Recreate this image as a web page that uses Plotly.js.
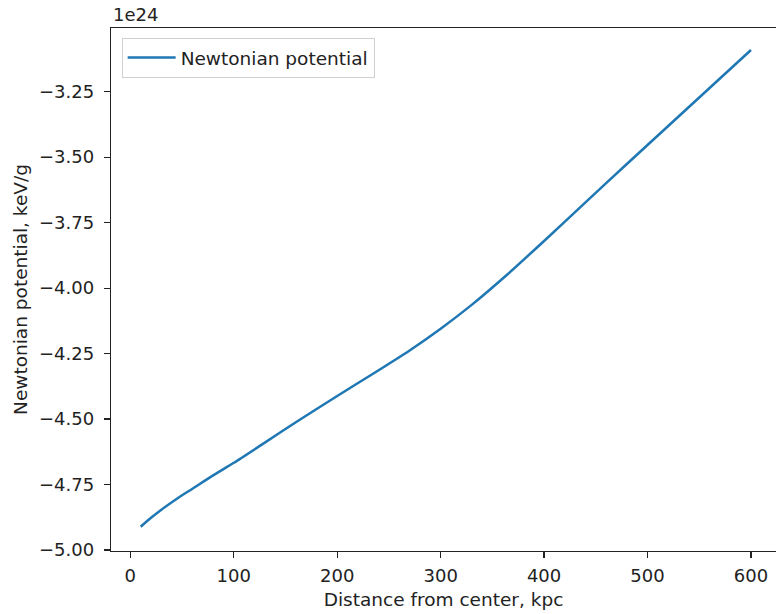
<!DOCTYPE html>
<html>
<head>
<meta charset="utf-8">
<script src="https://cdn.plot.ly/plotly-3.0.1.min.js"></script>
<style>html,body{margin:0;padding:0;background:#fff}#chart{width:776px;height:614px}</style>
</head>
<body>
<div id="chart"></div>
<script>
// Distance from center (kpc)
const distance = [10, 20, 30, 45, 60, 80, 100, 130, 160, 200, 235, 270, 300, 330, 365, 400, 440, 480, 520, 560, 600];
// Newtonian potential in units of 1e24 keV/g
const potential = [-4.911, -4.877, -4.846, -4.804, -4.766, -4.715, -4.667, -4.590, -4.512, -4.412, -4.326, -4.238, -4.155, -4.064, -3.946, -3.820, -3.673, -3.526, -3.381, -3.236, -3.091];
const yTicks = [-5.00, -4.75, -4.50, -4.25, -4.00, -3.75, -3.50, -3.25];
const xTicks = [0, 100, 200, 300, 400, 500, 600];
const seriesName = 'Newtonian potential';
const offsetText = '1e24';

const tickFont = {family: 'DejaVu Sans, sans-serif', size: 18, color: '#222'};
const labelFont = {family: 'DejaVu Sans, sans-serif', size: 18.5, color: '#222'};

Plotly.newPlot('chart', [{
  x: distance, y: potential, type: 'scatter', mode: 'lines',
  name: seriesName, line: {color: '#1f77b4', width: 2.5, shape: 'spline', smoothing: 0.6}
}], {
  width: 776, height: 614,
  margin: {l: 111, r: 0, t: 28, b: 63},
  paper_bgcolor: '#fff', plot_bgcolor: '#fff',
  font: tickFont,
  showlegend: true,
  legend: {x: 0.016, y: 0.981, xanchor: 'left', yanchor: 'top', bgcolor: 'rgba(255,255,255,0.8)',
           bordercolor: '#d0d0d0', borderwidth: 1, itemwidth: 48, font: labelFont},
  xaxis: {range: [-18.7, 624.2], tickvals: xTicks, ticks: 'outside', ticklen: 6, tickwidth: 1.2, tickcolor: '#222',
          showline: true, linecolor: '#222', linewidth: 1.3, mirror: true, showgrid: false, zeroline: false,
          tickfont: tickFont, ticklabelstandoff: 2,
          title: {text: 'Distance from center, kpc', font: labelFont, standoff: 8}},
  yaxis: {range: [-5.0038, -3.0069], tickvals: yTicks, tickformat: '.2f', ticks: 'outside', ticklen: 6, tickwidth: 1.2, tickcolor: '#222',
          showline: true, linecolor: '#222', linewidth: 1.3, mirror: false, showgrid: false, zeroline: false,
          tickfont: tickFont, ticklabelstandoff: 6,
          title: {text: 'Newtonian potential, keV/g', font: labelFont, standoff: 6}},
  annotations: [{text: offsetText, xref: 'paper', yref: 'paper', x: 0, y: 1, xanchor: 'left', yanchor: 'bottom',
                 yshift: 1, xshift: 0, showarrow: false, font: tickFont}]
}, {displayModeBar: false, staticPlot: true});
</script>
</body>
</html>
